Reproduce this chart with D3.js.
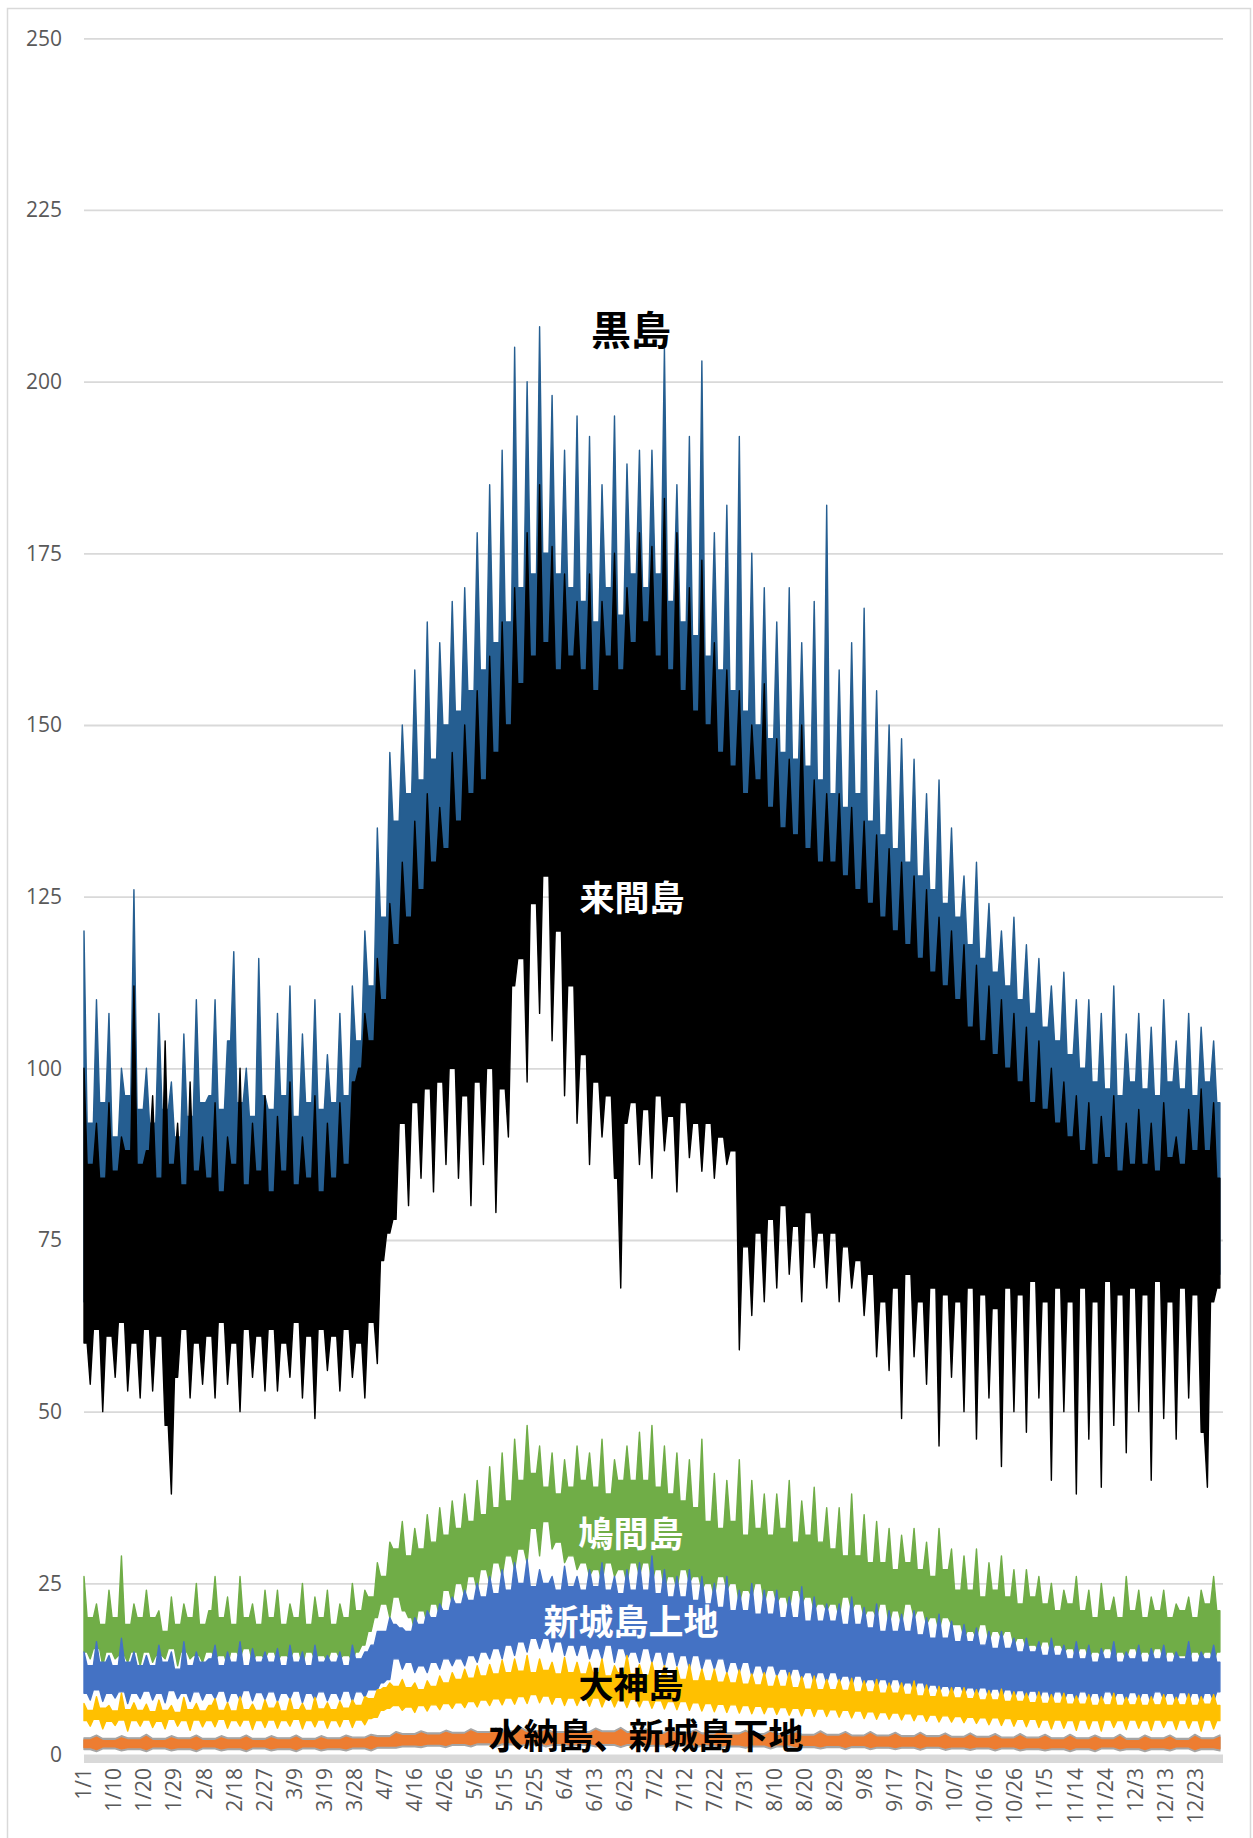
<!DOCTYPE html>
<html>
<head>
<meta charset="utf-8">
<script src="https://cdn.jsdelivr.net/npm/d3@7"></script>
<style>
  body{margin:0;background:#fff;}
  svg{display:block;}
</style>
</head>
<body>
<svg id="chart" width="1253" height="1838"></svg>
<script>
// category labels, one every 231 hours of the year
const dateLabels = ["1/1","1/10","1/20","1/29","2/8","2/18","2/27","3/9","3/19","3/28",
  "4/7","4/16","4/26","5/6","5/15","5/25","6/4","6/13","6/23","7/2","7/12","7/22","7/31",
  "8/10","8/20","8/29","9/8","9/17","9/27","10/7","10/16","10/26","11/5","11/14","11/24",
  "12/3","12/13","12/23"]
const hoursPerLabel = 231
const yTicks = [0,25,50,75,100,125,150,175,200,225,250]

const kuroshimaHi = [
  120,92,110,95,108,90,100,96,126,94,  100,92,108,94,98,90,105,93,110,95,
  96,110,94,104,117,95,100,93,116,96,  94,108,96,112,93,105,95,110,94,102,
  95,108,96,112,104,120,112,135,122,146,  136,150,140,158,142,165,145,162,150,168,
  152,170,155,178,158,185,162,190,165,205,  170,200,172,208,175,198,172,190,170,195,
  168,192,165,185,170,195,166,188,172,190,  170,190,172,205,168,185,165,192,163,203,
  160,178,158,182,155,192,152,175,150,170,  148,165,146,170,145,162,144,168,142,182,
  140,158,138,162,140,167,136,155,134,150,  132,148,130,145,128,140,126,142,124,135,
  122,128,118,130,116,124,114,120,112,122,  110,118,108,116,106,112,104,114,102,110,
  100,110,98,108,97,112,96,105,98,108,  97,106,96,110,98,104,97,108,96,106,
  98,104,95]
const kuroshimaLo = [
  66,67,65,68,66,67,65,68,66,67,  66,68,65,67,66,68,65,67,66,68,
  66,67,65,68,66,67,65,68,66,67,  66,68,65,67,66,68,65,67,66,68,
  66,67,65,68,66,67,68,70,78,82,  86,98,88,100,90,102,92,104,94,106,
  100,104,102,106,104,108,106,110,112,118,  125,128,132,134,136,132,130,126,122,118,
  112,110,108,106,106,104,104,104,103,102,  102,102,101,100,100,100,100,99,98,98,
  97,96,95,94,93,90,88,86,85,85,  84,84,83,83,82,82,82,81,81,80,
  80,80,79,79,78,78,78,77,77,76,  76,75,75,74,74,74,73,73,73,72,
  72,72,72,71,71,71,71,70,70,70,  70,70,70,70,70,70,70,70,70,70,
  70,70,70,70,70,70,70,70,70,70,  70,70,70,70,70,70,70,70,70,70,
  70,70,70]

const kurimaHi = [
  100,86,92,84,95,85,90,88,112,86,  88,96,84,104,86,92,83,98,85,90,
  84,95,82,90,86,100,83,92,85,96,  82,93,85,98,83,90,84,96,82,92,
  84,95,86,98,100,108,104,116,110,124,  118,130,122,136,126,140,130,138,132,146,
  136,150,140,155,142,160,146,165,150,170,  156,178,160,185,162,176,158,172,160,168,
  158,172,155,168,160,175,158,170,162,178,  165,176,160,183,158,178,155,170,152,174,
  150,162,146,158,144,155,140,150,142,156,  138,148,135,145,134,150,132,142,130,140,
  130,140,128,138,126,136,124,134,122,132,  120,130,118,128,116,126,114,122,112,120,
  110,118,106,115,104,112,102,110,100,108,  98,106,95,104,94,100,92,98,90,96,
  88,95,86,93,87,96,85,92,86,94,  86,92,85,95,87,90,86,94,88,97,
  88,95,84]
const kurimaLo = [
  60,54,62,50,61,55,63,53,60,52,  62,53,61,48,38,55,62,52,60,54,
  61,52,63,54,60,50,62,55,61,53,  62,53,60,55,63,52,61,49,62,56,
  61,53,62,55,60,52,63,57,72,76,  78,92,80,95,84,97,82,98,86,100,
  84,96,80,98,86,100,79,97,90,112,  116,98,124,108,128,104,120,96,112,92,
  102,86,98,90,96,84,68,92,95,86,  94,84,96,88,93,82,95,87,92,85,
  92,84,90,86,88,59,74,64,76,66,  78,68,80,70,77,66,79,71,76,68,
  76,66,74,68,72,64,70,58,66,56,  68,49,70,58,66,54,68,45,67,55,
  66,50,68,46,67,52,65,42,68,50,  67,47,69,52,66,40,68,50,66,38,
  68,46,66,39,69,48,67,44,68,50,  67,40,69,49,66,46,68,52,67,47,
  39,66,68]

const hatomaHi = [
  26,20,22,19,24,20,29,19,22,20,  24,20,21,18,23,19,22,20,25,19,
  21,26,20,23,19,26,20,22,19,24,  20,24,19,22,20,25,19,23,20,24,
  19,22,20,25,21,24,23,28,26,31,  30,34,29,33,30,35,31,36,32,37,
  33,38,34,40,35,42,36,44,37,46,  40,48,41,45,39,44,38,43,39,45,
  40,44,39,46,38,43,40,45,40,47,  40,48,39,45,38,44,37,43,36,46,
  34,41,33,40,34,43,32,40,33,38,  32,38,33,40,31,37,32,39,31,36,
  30,36,29,38,29,35,28,34,28,33,  27,32,28,33,27,31,26,33,27,30,
  24,29,24,30,23,28,24,29,23,27,  22,27,23,26,22,25,21,24,22,26,
  21,24,20,25,21,23,20,26,21,24,  20,23,21,24,20,22,21,23,20,24,
  22,26,21]
const hatomaLo = [
  15,14,15.5,13,15,14,14.5,13.5,15,13,  15,13.5,14.5,14,15.5,13,15,14,14.5,13.5,
  15,14,14.5,13,15,14,15.5,13.5,14.5,14,  15,13.5,14.5,14,15,13,15,14,14.5,13.5,
  15,14,14.5,13.5,15,16,18,20,22,20,  23,21,20,18,21,19,22,20,24,22,
  25,23,26,24,27,25,28,26,29,27,  30,28,33,29,34,30,31,28,29,27,
  28,26,27,25,28,26,27,25,28,26,  28,25,27,24,26,24,27,25,26,24,
  25,23,26,24,25,22,24,23,25,22,  24,22,23,21,24,22,23,21,22,21,
  22,20,23,21,22,20,21,20,22,19,  21,19,22,20,21,19,20,18,20,19,
  19,17,18,17,19,16.5,18,17,18,16,  17,15.5,16,15,16.5,14.5,16,15,15.5,14,
  15.5,14,15,14.5,15.5,13.5,15,14,15.5,14,  15,14,15.5,13.5,15,14,14.5,13.5,15,14,
  15,13.5,15]

const kamijiHi = [
  15,13,16.5,13.5,14.5,13,17,13.5,15,13,  14.5,13,16,13.5,15,12.5,16.5,13,15,13.5,
  14,16,13,15,13.5,16.5,13,15.5,13.5,15,  13.5,15.5,13,16,13.5,15,13,16,13.5,14.5,
  13.5,15,13,16,14,15,16,18,18,20,  19,18.5,18,20,19,21,20,22,21,23,
  22,24,22.5,25,23,26,23.5,27,24,28,  25,28.5,24.5,27,25,26,24,27.5,24.5,26,
  24,27,24.5,28,24,26,23.5,27,24,28,  24,29,23.5,27,23,26,23,27,22.5,26,
  22,25,21.5,26,21,24,21,25,20.5,24,  20.5,24,20,23,20,24.5,19.5,23,19.5,22,
  19.5,22,19,23,19,21.5,18.5,22,18,21,  18,20.5,18,21,17.5,20,17,20.5,17,19.5,
  16.5,19,16.5,18.5,16,18,15.5,18,15.5,17,  15,17,15,16.5,14.5,17,14.5,16,14,16.5,
  14,16,13.5,15.5,14,16.5,13.5,15,14,16,  13.5,15.5,14,16,13.5,15,14,16.5,13.5,15,
  14,16,13.5]
const kamijiLo = [
  9,8,9.5,7.8,9,8.3,9.2,7.5,9,8.2,  9.3,8,9,7.6,9.4,8.2,9,7.8,9.2,8,
  9,8.2,9.3,7.7,9,8,9.4,7.9,9.1,8.1,  9.2,7.8,9,8.2,9.3,7.6,9,8,9.2,7.9,
  9,8,9.3,7.8,9.2,8.4,9.5,9.5,10.5,11,  14,12.5,13.5,12,13,12,13.5,12.5,14,13,
  14,13,14.5,13.5,15,14,15.5,14,16,14.5,  16.5,15,17,15.5,17,15,16.5,14.5,16,14.5,
  16,14,15.5,14,16,13.5,15.5,14,15,13.5,  15.5,13.5,15,13,15,13,14.5,12.5,14.5,12.5,
  14,12.5,14,12,13.5,12,13.5,11.5,13,11.5,  13,11.5,12.5,11,12.5,11,12,10.5,12,10.5,
  12,10.5,11.5,10,11.5,10,11,9.8,11,9.5,  11,9.5,10.5,9.2,10.5,9,10.2,9,10,8.8,
  10,8.8,9.8,8.5,9.8,8.3,9.6,8.2,9.5,8,  9.4,8,9.3,7.8,9.2,7.6,9.2,7.8,9,7.5,
  9.2,7.8,9,7.4,9.2,8,9,7.6,9.1,7.8,  9,7.5,9.2,8,9,7.6,9.1,7.8,9,7.4,
  9,7.8,9.2]

const ogamiHi = [
  7.5,6.5,8.5,6.8,7.2,6.4,9,6.6,7.6,6.5,  7.4,6.3,8,6.5,7.2,6.2,8.4,6.6,7.5,6.4,
  7.2,8.2,6.5,7.6,6.4,8.5,6.6,7.4,6.5,8,  6.8,7.8,6.4,8.2,6.6,7.5,6.5,8.4,6.7,7.6,
  6.6,7.8,6.8,8,7.2,8.5,8.2,9.5,9.8,10.5,  10,11,9.8,10.5,9.5,10.8,10,11.5,10.5,12,
  11,12.5,11.2,13,11.5,13.2,11.8,13.8,12,14,  12.2,14.5,12,14,12.3,13.5,11.8,14.2,12,13.5,
  11.8,13.5,12,14,11.5,13,12,14.5,11.8,13.2,  11.6,13.5,11.4,13,11.2,12.8,11,13.2,10.8,12.5,
  10.8,12.5,10.6,12,10.5,12.4,10.3,11.8,10.2,12,  10,11.6,10,12,9.8,11.4,9.6,11.5,9.5,11,
  9.5,11,9.4,11.2,9.2,10.8,9.2,11,9,10.5,  9,10.5,8.8,10.8,8.6,10.2,8.5,10,8.4,9.8,
  8.3,9.8,8.2,9.5,8,9.4,8,9.6,7.8,9.2,  7.8,9,7.6,9.2,7.5,8.8,7.5,9,7.4,8.6,
  7.4,8.8,7.2,8.5,7.3,9,7.2,8.4,7.3,8.7,  7.2,8.5,7.3,8.8,7.2,8.4,7.3,8.9,7.2,8.5,
  7.4,8.8,7.2]
const ogamiLo = [
  5,4.2,5.2,3.8,4.9,4.3,5.1,3.5,5,4.2,  5.1,4,4.9,3.8,5.2,4.2,5,3.6,5.1,4.1,
  5,4.1,5.2,3.9,5,4.2,5.1,3.7,5,4,  5.1,3.9,5,4.2,5.2,3.8,5,4.1,5.1,3.9,
  5,4.1,5.2,4,5.1,4.4,5.3,5.5,6.5,6.8,  7.2,6.5,7,6.2,7.2,6.4,7.3,6.6,7.5,6.8,
  7.6,6.9,7.8,7,8,7.2,8.2,7.3,8.3,7.4,  8.5,7.5,8.8,7.6,8.6,7.4,8.4,7.2,8.3,7.2,
  8.2,7.1,8.3,7,8.1,7,8,6.9,8.1,7,  8,6.8,7.9,6.7,7.8,6.6,7.8,6.5,7.6,6.4,
  7.5,6.3,7.4,6.2,7.3,6.1,7.2,6,7.1,6,  7,5.9,6.9,5.8,6.8,5.7,6.8,5.6,6.7,5.6,
  6.6,5.5,6.5,5.4,6.4,5.3,6.3,5.2,6.2,5.2,  6.1,5.1,6,5,5.9,4.9,5.8,4.8,5.7,4.8,
  5.6,4.7,5.5,4.6,5.4,4.4,5.4,4.3,5.3,4.2,  5.2,4.1,5.2,4,5.1,3.8,5.1,3.9,5,3.6,
  5.1,3.8,5,3.5,5.1,4,5,3.7,5.1,3.9,  5,3.6,5.1,4,5,3.7,5.1,3.9,5,3.5,
  5.1,3.8,5]

const minnaHi = [
  2.5,2.9,2.4,2.8,2.5,3.0,2.4,2.8,2.5,2.9,  2.4,2.8,2.5,2.9,2.4,2.8,2.5,2.9,2.4,2.8,
  2.5,2.9,2.6,3.0,2.8,3.4,3.1,3.5,3.2,3.6,  3.3,3.8,3.4,3.9,3.5,4.0,3.5,3.9,3.4,3.8,
  3.4,3.9,3.5,4.0,3.4,3.8,3.3,3.8,3.3,3.7,  3.2,3.7,3.2,3.6,3.1,3.6,3.1,3.5,3.0,3.5,
  3.0,3.4,2.9,3.4,2.9,3.3,2.8,3.3,2.8,3.2,  2.7,3.2,2.7,3.1,2.6,3.1,2.6,3.0,2.5,3.0,
  2.5,2.9,2.5,3.0,2.4,2.9,2.5,2.9,2.4,3.0,  2.5,2.9]
const minnaLo = [
  0.8,0.5,0.9,0.6,0.8,0.5,0.9,0.6,0.8,0.5,  0.9,0.6,0.8,0.5,0.9,0.6,0.8,0.5,0.9,0.6,
  0.8,0.6,0.9,0.6,1.0,1.0,1.2,1.1,1.3,1.1,  1.4,1.2,1.5,1.2,1.5,1.3,1.5,1.2,1.4,1.2,
  1.4,1.2,1.4,1.1,1.4,1.2,1.3,1.1,1.3,1.1,  1.3,1.0,1.2,1.0,1.2,0.9,1.2,0.9,1.1,0.9,
  1.1,0.8,1.1,0.8,1.0,0.8,1.0,0.7,1.0,0.7,  0.9,0.7,0.9,0.6,0.9,0.6,0.8,0.6,0.8,0.5,
  0.8,0.5,0.9,0.6,0.8,0.5,0.8,0.6,0.9,0.5,  0.8,0.6]

const shimojiHi = [
  2.2,2.6,2.1,2.5,2.2,2.7,2.1,2.5,2.2,2.6,  2.1,2.5,2.2,2.6,2.1,2.5,2.2,2.6,2.1,2.5,
  2.2,2.6,2.3,2.7,2.5,3.1,2.8,3.2,2.9,3.3,  3.0,3.5,3.1,3.6,3.2,3.7,3.2,3.6,3.1,3.5,
  3.1,3.6,3.2,3.7,3.1,3.5,3.0,3.5,3.0,3.4,  2.9,3.4,2.9,3.3,2.8,3.3,2.8,3.2,2.7,3.2,
  2.7,3.1,2.6,3.1,2.6,3.0,2.5,3.0,2.5,2.9,  2.4,2.9,2.4,2.8,2.3,2.8,2.3,2.7,2.2,2.7,
  2.2,2.6,2.2,2.7,2.1,2.6,2.2,2.6,2.1,2.7,  2.2,2.6]
const shimojiLo = [
  1.1,0.8,1.2,0.9,1.1,0.8,1.2,0.9,1.1,0.8,  1.2,0.9,1.1,0.8,1.2,0.9,1.1,0.8,1.2,0.9,
  1.1,0.9,1.2,0.9,1.3,1.3,1.5,1.4,1.6,1.4,  1.7,1.5,1.8,1.5,1.8,1.6,1.8,1.5,1.7,1.5,
  1.7,1.5,1.7,1.4,1.7,1.5,1.6,1.4,1.6,1.4,  1.6,1.3,1.5,1.3,1.5,1.2,1.5,1.2,1.4,1.2,
  1.4,1.1,1.4,1.1,1.3,1.1,1.3,1.0,1.3,1.0,  1.2,1.0,1.2,0.9,1.2,0.9,1.1,0.9,1.1,0.8,
  1.1,0.8,1.2,0.9,1.1,0.8,1.1,0.9,1.2,0.8,  1.1,0.9]

const islandLabels = ["黒島","来間島","鳩間島","新城島上地","大神島","水納島、新城島下地"]

// ---------------------------------------------------------------

const svg = d3.select("#chart")
const plot = {left: 84, right: 1223, top: 38.3, bottom: 1755}

const x = d3.scaleLinear().domain([0, 365]).range([plot.left, plot.right])
const y = d3.scaleLinear().domain([0, 250]).range([plot.bottom, plot.top])

// drawn in this order, later ones on top
const series = [
  {hi: kuroshimaHi, lo: kuroshimaLo, step: 2, color: "#255E91"},
  {hi: kurimaHi,    lo: kurimaLo,    step: 2, color: "#000000"},
  {hi: hatomaHi,    lo: hatomaLo,    step: 2, color: "#70AD47"},
  {hi: kamijiHi,    lo: kamijiLo,    step: 2, color: "#4472C4"},
  {hi: ogamiHi,     lo: ogamiLo,     step: 2, color: "#FFC000"},
  {hi: minnaHi,     lo: minnaLo,     step: 4, color: "#A5A5A5"},
  {hi: shimojiHi,   lo: shimojiLo,   step: 4, color: "#ED7D31"}
]

// chart frame
svg.append("rect")
  .attr("x", 7.5).attr("y", 8.5)
  .attr("width", 1243).attr("height", 1860)
  .attr("fill", "none")
  .attr("stroke", "#d9d9d9")
  .attr("stroke-width", 1.5)

// y axis with gridlines
const yAxis = svg.append("g")
  .attr("transform", `translate(${plot.left},0)`)
  .call(d3.axisLeft(y).tickValues(yTicks).tickSize(-(plot.right - plot.left)).tickPadding(22))
yAxis.select(".domain").remove()
yAxis.selectAll("line")
  .attr("stroke", "#d9d9d9")
  .attr("stroke-width", 1.8)
yAxis.selectAll("text")
  .attr("fill", "#595959")
  .style("font-family", "'Open Sans', 'Noto Sans', sans-serif")
  .style("font-size", "21px")

// bands: between two readings the edge stays at the inner one, so peaks stay narrow
const band = d3.area()
  .x(p => x(p.day))
  .y0(p => y(p.lo))
  .y1(p => y(p.hi))

series.forEach(s => {
  const pts = []
  s.hi.forEach((v, i) => {
    pts.push({day: i * s.step, hi: v, lo: s.lo[i]})
    if (i < s.hi.length - 1) {
      pts.push({
        day: i * s.step + s.step / 2,
        hi: Math.min(v, s.hi[i + 1]),
        lo: Math.max(s.lo[i], s.lo[i + 1])
      })
    }
  })
  svg.append("path")
    .datum(pts)
    .attr("d", band)
    .attr("fill", s.color)
    .attr("stroke", s.color)
    .attr("stroke-width", 1.4)
    .attr("stroke-linejoin", "round")
})

// horizontal axis line (thick light grey band)
svg.append("rect")
  .attr("x", plot.left)
  .attr("y", y(0))
  .attr("width", plot.right - plot.left)
  .attr("height", 8)
  .attr("fill", "#d9d9d9")

// category labels, rotated
svg.append("g").selectAll("text")
  .data(dateLabels)
  .join("text")
    .attr("transform", (d, i) => `translate(${x(i * hoursPerLabel / 24)},${y(0) + 13}) rotate(-90)`)
    .attr("text-anchor", "end")
    .attr("dy", "0.35em")
    .attr("fill", "#595959")
    .style("font-family", "'Open Sans', 'Noto Sans', sans-serif")
    .style("font-size", "21px")
    .text(d => d)

// island names written on the bands
const labelSpots = [[175.3, 207.8], [175.6, 125.2], [175.3, 32.6], [175.3, 19.8], [175.3, 10.6], [180.1, 3.2]]
const labelColors = ["#000", "#fff", "#fff", "#fff", "#000", "#000"]
svg.append("g").selectAll("text")
  .data(islandLabels)
  .join("text")
    .attr("x", (d, i) => x(labelSpots[i][0]))
    .attr("y", (d, i) => y(labelSpots[i][1]))
    .attr("text-anchor", "middle")
    .attr("dominant-baseline", "central")
    .attr("fill", (d, i) => labelColors[i])
    .style("font-family", "'Noto Sans CJK JP', sans-serif")
    .style("font-weight", 700)
    .style("font-size", (d, i) => i == 0 ? "40px" : "35px")
    .text(d => d)
</script>
</body>
</html>
